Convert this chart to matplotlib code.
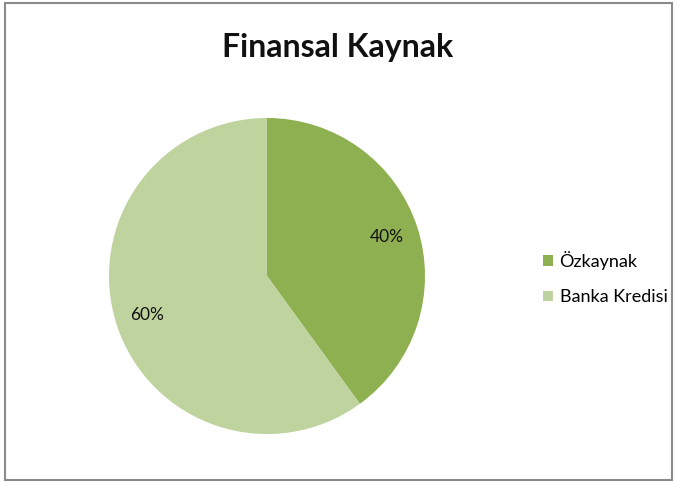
import matplotlib.pyplot as plt
from matplotlib.patches import Rectangle

# Data
labels = ['Özkaynak', 'Banka Kredisi']
shares = [40, 60]
colors = ['#8fb050', '#bed39e']

plt.rcParams['font.family'] = ['Lato', 'DejaVu Sans']

W, H = 677, 483
fig = plt.figure(figsize=(W / 100, H / 100), dpi=100)
fig.patch.set_facecolor('white')

# outer chart frame
fig.patches.append(Rectangle((5 / W, 3 / H), 667 / W, 477 / H, transform=fig.transFigure,
                             fill=False, edgecolor='#8a8a8a', linewidth=1.5))

fig.text(338 / W, 1 - 47 / H, 'Finansal Kaynak', ha='center', va='center',
         fontsize=23, fontweight='bold', color='#111111')

# pie: center (267, 276), radius 158 px
cx, cy, r = 267, 276, 158
ax = fig.add_axes([(cx - r) / W, (H - cy - r) / H, 2 * r / W, 2 * r / H])
wedges, texts, autotexts = ax.pie(shares, colors=colors, startangle=90, counterclock=False,
                                  autopct='%d%%', pctdistance=0.8,
                                  textprops={'fontsize': 12.5, 'color': '#111111'})
ax.set_xlim(-1, 1)
ax.set_ylim(-1, 1)
ax.set_aspect('equal')
ax.axis('off')

fig.legend(wedges, labels, loc='center left', bbox_to_anchor=(527 / W, 1 - 278 / H),
           frameon=False, fontsize=13, handlelength=0.55, handleheight=0.55,
           handletextpad=0.35, labelspacing=1.1)

fig.savefig('out.png', dpi=100)
